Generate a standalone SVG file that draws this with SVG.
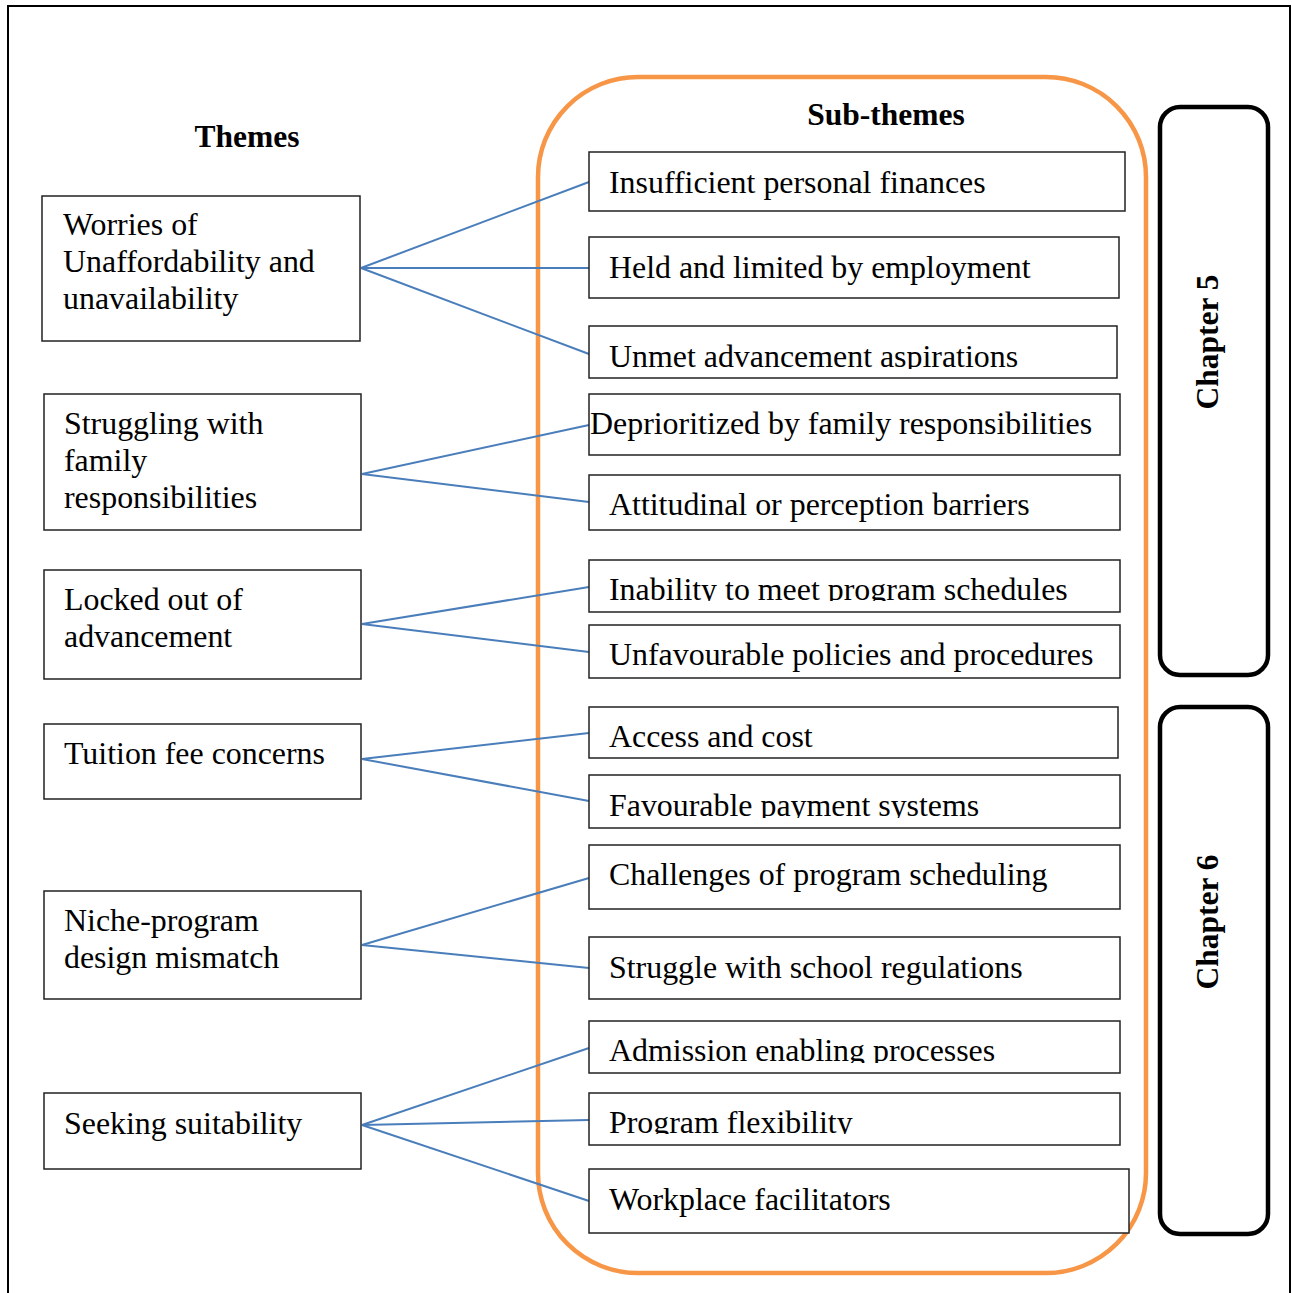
<svg xmlns="http://www.w3.org/2000/svg" width="1292" height="1293" viewBox="0 0 1292 1293">
<style>
.box{fill:#fff;stroke:#222;stroke-width:1.5}
.t{font-family:"Liberation Serif","Times New Roman",serif;font-size:31.9px;fill:#000}
.h{font-family:"Liberation Serif","Times New Roman",serif;font-size:31.5px;font-weight:bold;fill:#000}
.con line{stroke:#4A7EBB;stroke-width:2}
.ch{fill:#fff;stroke:#000;stroke-width:4.5}
</style>
<defs>
<clipPath id="c3"><rect x="589" y="326" width="530" height="43"/></clipPath>
<clipPath id="c6"><rect x="589" y="560" width="530" height="41"/></clipPath>
<clipPath id="c9"><rect x="589" y="775" width="530" height="43"/></clipPath>
<clipPath id="c12"><rect x="589" y="1021" width="530" height="42"/></clipPath>
<clipPath id="c13"><rect x="589" y="1093" width="530" height="41"/></clipPath>
</defs>
<rect width="1292" height="1293" fill="#fff"/>
<path d="M8,1293 V6 H1290 V1293" fill="none" stroke="#000" stroke-width="2"/>
<text class="h" x="247" y="147" text-anchor="middle">Themes</text>
<rect id="group-outline" x="538" y="77" width="608" height="1196" rx="100" ry="100" fill="none" stroke="#F79646" stroke-width="4.5"/>
<text class="h" x="886" y="125" text-anchor="middle">Sub-themes</text>
<g class="con">
<line x1="361" y1="268" x2="589" y2="182"/>
<line x1="361" y1="268" x2="589" y2="268"/>
<line x1="361" y1="268" x2="589" y2="354"/>
<line x1="362" y1="474" x2="589" y2="425"/>
<line x1="362" y1="474" x2="589" y2="502"/>
<line x1="362" y1="624" x2="589" y2="587"/>
<line x1="362" y1="624" x2="589" y2="652"/>
<line x1="362" y1="759" x2="589" y2="733"/>
<line x1="362" y1="759" x2="589" y2="801"/>
<line x1="362" y1="945" x2="589" y2="878"/>
<line x1="362" y1="945" x2="589" y2="968"/>
<line x1="362" y1="1125" x2="589" y2="1048"/>
<line x1="362" y1="1125" x2="589" y2="1120"/>
<line x1="362" y1="1125" x2="589" y2="1201"/>
</g>
<g id="theme1"><rect class="box" x="42" y="196" width="318" height="145"/><text class="t" x="63" y="235">Worries of</text><text class="t" x="63" y="272">Unaffordability and</text><text class="t" x="63" y="309">unavailability</text></g>
<g id="theme2"><rect class="box" x="44" y="394" width="317" height="136"/><text class="t" x="64" y="434">Struggling with</text><text class="t" x="64" y="471">family</text><text class="t" x="64" y="508">responsibilities</text></g>
<g id="theme3"><rect class="box" x="44" y="570" width="317" height="109"/><text class="t" x="64" y="610">Locked out of</text><text class="t" x="64" y="647">advancement</text></g>
<g id="theme4"><rect class="box" x="44" y="724" width="317" height="75"/><text class="t" x="64" y="764">Tuition fee concerns</text></g>
<g id="theme5"><rect class="box" x="44" y="891" width="317" height="108"/><text class="t" x="64" y="931">Niche-program</text><text class="t" x="64" y="968">design mismatch</text></g>
<g id="theme6"><rect class="box" x="44" y="1093" width="317" height="76"/><text class="t" x="64" y="1134">Seeking suitability</text></g>
<g id="sub1"><rect class="box" x="589" y="152" width="536" height="59"/><text class="t" x="609" y="193">Insufficient personal finances</text></g>
<g id="sub2"><rect class="box" x="589" y="237" width="530" height="61"/><text class="t" x="609" y="278">Held and limited by employment</text></g>
<g id="sub3"><rect class="box" x="589" y="326" width="528" height="52"/><text class="t" x="609" y="367" clip-path="url(#c3)">Unmet advancement aspirations</text></g>
<g id="sub4"><rect class="box" x="589" y="394" width="531" height="61"/><text class="t" x="590" y="434">Deprioritized by family responsibilities</text></g>
<g id="sub5"><rect class="box" x="589" y="475" width="531" height="55"/><text class="t" x="609" y="515">Attitudinal or perception barriers</text></g>
<g id="sub6"><rect class="box" x="589" y="560" width="531" height="52"/><text class="t" x="609" y="600" clip-path="url(#c6)">Inability to meet program schedules</text></g>
<g id="sub7"><rect class="box" x="589" y="625" width="531" height="53"/><text class="t" x="609" y="665">Unfavourable policies and procedures</text></g>
<g id="sub8"><rect class="box" x="589" y="707" width="529" height="51"/><text class="t" x="609" y="747">Access and cost</text></g>
<g id="sub9"><rect class="box" x="589" y="775" width="531" height="53"/><text class="t" x="609" y="816" clip-path="url(#c9)">Favourable payment systems</text></g>
<g id="sub10"><rect class="box" x="589" y="845" width="531" height="64"/><text class="t" x="609" y="885">Challenges of program scheduling</text></g>
<g id="sub11"><rect class="box" x="589" y="937" width="531" height="62"/><text class="t" x="609" y="978">Struggle with school regulations</text></g>
<g id="sub12"><rect class="box" x="589" y="1021" width="531" height="52"/><text class="t" x="609" y="1061" clip-path="url(#c12)">Admission enabling processes</text></g>
<g id="sub13"><rect class="box" x="589" y="1093" width="531" height="52"/><text class="t" x="609" y="1133" clip-path="url(#c13)">Program flexibility</text></g>
<g id="sub14"><rect class="box" x="589" y="1169" width="540" height="64"/><text class="t" x="609" y="1210">Workplace facilitators</text></g>
<g id="chapter5"><rect class="ch" x="1160" y="107" width="108" height="568" rx="20" ry="20"/><text class="h" transform="translate(1218,342) rotate(-90)" text-anchor="middle">Chapter 5</text></g>
<g id="chapter6"><rect class="ch" x="1160" y="707" width="108" height="527" rx="20" ry="20"/><text class="h" transform="translate(1218,922) rotate(-90)" text-anchor="middle">Chapter 6</text></g>
</svg>
